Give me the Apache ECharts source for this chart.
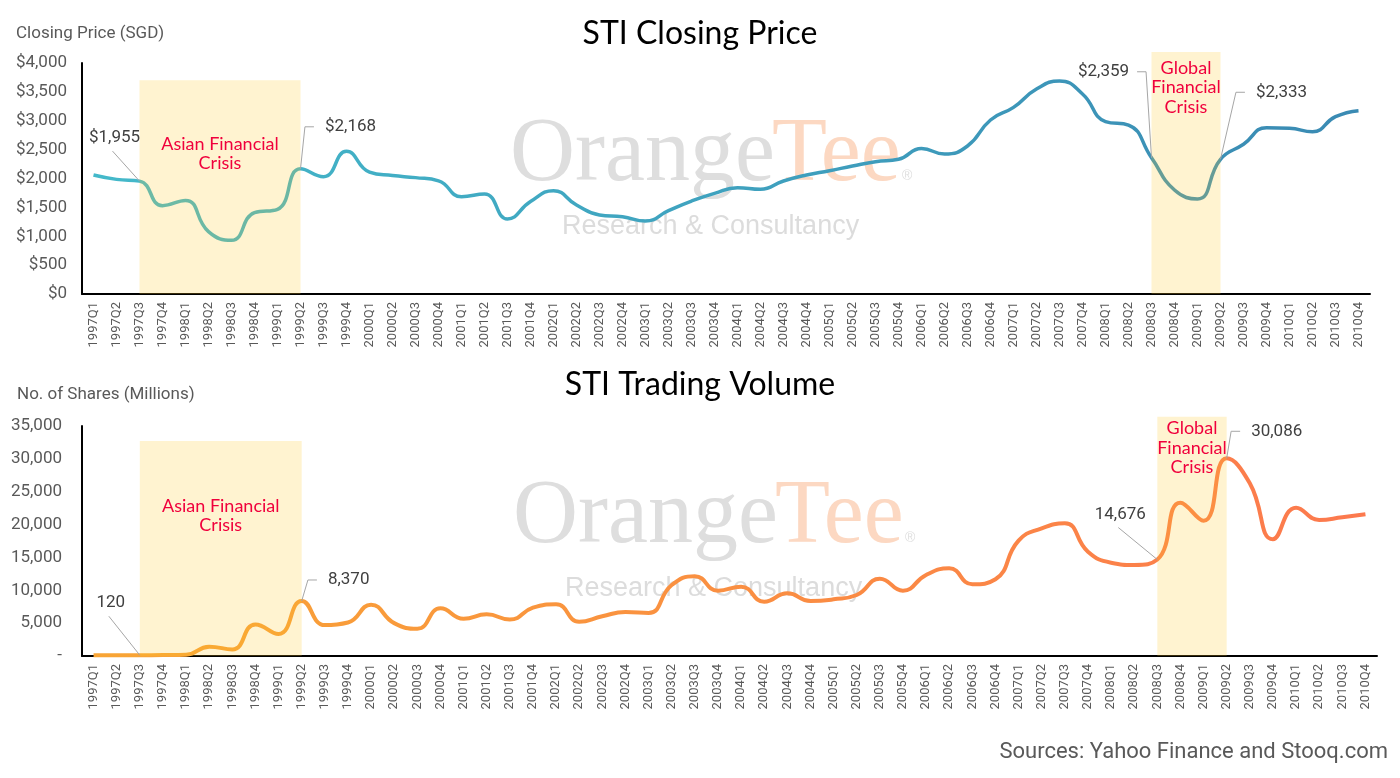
<!DOCTYPE html>
<html><head><meta charset="utf-8">
<script src="https://cdn.jsdelivr.net/npm/echarts@6/dist/echarts.min.js"></script>
<style>html,body{margin:0;padding:0;background:#fff}#c{width:1400px;height:778px}</style>
</head><body><div id="c"></div>
<script>
const quarters = ['1997Q1','1997Q2','1997Q3','1997Q4','1998Q1','1998Q2','1998Q3','1998Q4',
  '1999Q1','1999Q2','1999Q3','1999Q4','2000Q1','2000Q2','2000Q3','2000Q4',
  '2001Q1','2001Q2','2001Q3','2001Q4','2002Q1','2002Q2','2002Q3','2002Q4',
  '2003Q1','2003Q2','2003Q3','2003Q4','2004Q1','2004Q2','2004Q3','2004Q4',
  '2005Q1','2005Q2','2005Q3','2005Q4','2006Q1','2006Q2','2006Q3','2006Q4',
  '2007Q1','2007Q2','2007Q3','2007Q4','2008Q1','2008Q2','2008Q3','2008Q4',
  '2009Q1','2009Q2','2009Q3','2009Q4','2010Q1','2010Q2','2010Q3','2010Q4'];

const closingPrice = [2060,1985,1955,1530,1620,1080,930,1410,1466,2168,
  2032,2470,2110,2050,2015,1960,1685,1731,1299,1600,
  1789,1541,1368,1339,1264,1443,1610,1743,1841,1812,
  1957,2060,2135,2216,2291,2332,2520,2424,2563,3013,
  3232,3550,3688,3463,2984,2926,2359,1800,1645,2333,
  2592,2880,2870,2811,3071,3175];

const tradingVolume = [100,110,120,150,200,1420,1000,4800,3350,8370,
  4700,5100,7800,5000,4150,7250,5650,6340,5550,7350,
  7880,5220,6050,6700,6550,10800,12150,9940,10550,8270,
  9540,8370,8620,9280,11770,9940,12330,13340,10910,11670,
  17550,19430,20190,15870,14200,13850,14676,23330,20590,30086,
  26280,17760,22570,20700,21100,21560];

const priceTickValues = [0,500,1000,1500,2000,2500,3000,3500,4000];
const priceTickLabels = ['$0','$500','$1,000','$1,500','$2,000','$2,500','$3,000','$3,500','$4,000'];
const volumeTickValues = [0,5000,10000,15000,20000,25000,30000,35000];
const volumeTickLabels = ['-','5,000','10,000','15,000','20,000','25,000','30,000','35,000'];

const annotatedQuarters = ['1997Q3','1999Q2','2008Q3','2009Q2'];
const crisisNames = ['Asian Financial\nCrisis','Global\nFinancial\nCrisis'];
const crisisStart = ['1997Q3','2008Q3'];
const crisisEnd = ['1999Q2','2009Q2'];
const priceBoxTop = [3700, 4190];
const volumeBoxTop = [32700, 36400];

// ---- styling / layout (pixel offsets of labels relative to their points) ----
const priceLabelOffsets = [[-25,-43],[50,-42],[-48,-86],[61,-67]];
const priceLeaderSide = ['bottom','left','right','left'];
const volumeLabelOffsets = [[-29,-52],[47,-21],[-37,-45],[50,-27]];
const volumeLeaderSide = ['bottom','left','bottom','left'];
const priceCrisisTextOffset = [54, 6];
const volumeCrisisTextOffset = [55, 2];

const axisTextColor = '#595959';
const annFont = '17px Roboto';
const crisisFont = '18px Lato';

function fmtNum(v){ return String(v).replace(/\B(?=(\d{3})+(?!\d))/g, ','); }
const measureCtx = document.createElement('canvas').getContext('2d');
function textWidth(t, font){ measureCtx.font = font; return measureCtx.measureText(t).width; }
function tickFmt(values, labels){
  return v => { const k = values.indexOf(v); return k < 0 ? '' : labels[k]; };
}

function crisisData(tops){
  return crisisNames.map((n,k)=>[quarters.indexOf(crisisStart[k]), quarters.indexOf(crisisEnd[k]), tops[k]]);
}
function crisisSeries(xi, tops, textOffsets){
  return {
    type: 'custom', xAxisIndex: xi, yAxisIndex: xi, z: 3, clip: false, silent: true,
    encode: {x: [0,1], y: 2},
    data: crisisData(tops),
    renderItem: function(params, api){
      const p0 = api.coord([api.value(0), 0]);
      const p1 = api.coord([api.value(1), api.value(2)]);
      const k = params.dataIndex;
      return {type: 'group', children: [
        {type: 'rect', shape: {x: p0[0], y: p1[1], width: p1[0]-p0[0], height: p0[1]-p1[1]},
         style: {fill: 'rgba(255,200,40,0.22)'}},
        {type: 'text', x: (p0[0]+p1[0])/2, y: p1[1] + textOffsets[k],
         style: {text: crisisNames[k], fill: '#f0003c', font: crisisFont, align: 'center', verticalAlign: 'top', lineHeight: 19.5}}
      ]};
    }
  };
}
function annotationSeries(xi, vals, prefix, offsets, sides){
  const data = annotatedQuarters.map(q => { const i = quarters.indexOf(q); return [i, vals[i]]; });
  return {
    type: 'custom', xAxisIndex: xi, yAxisIndex: xi, z: 4, clip: false, silent: true,
    encode: {x: 0, y: 1},
    data: data,
    renderItem: function(params, api){
      const k = params.dataIndex;
      const pt = api.coord([api.value(0), api.value(1)]);
      const txt = prefix + fmtNum(api.value(1));
      const cx = pt[0] + offsets[k][0], cy = pt[1] + offsets[k][1];
      const hw = textWidth(txt, annFont) / 2;
      let pts;
      if (sides[k] === 'bottom') {
        pts = [[cx - 2, cy + 13], pt];
      } else if (sides[k] === 'left') {
        const e = cx - hw - 11;
        pts = [[e, cy], [e - 9, cy], pt];
      } else {
        const e = cx + hw + 8;
        pts = [[e, cy], [e + 9, cy], pt];
      }
      return {type: 'group', children: [
        {type: 'polyline', shape: {points: pts}, style: {stroke: '#a6a6a6', lineWidth: 1, fill: null}},
        {type: 'text', x: cx, y: cy, style: {text: txt, fill: '#404040', font: annFont, align: 'center', verticalAlign: 'middle'}}
      ]};
    }
  };
}

const xAxisCommon = {
  type: 'category', data: quarters, boundaryGap: true,
  axisLine: {show: true, lineStyle: {color: '#000', width: 2}},
  axisTick: {show: false}, splitLine: {show: false},
  axisLabel: {rotate: 90, interval: 0, fontFamily: 'Roboto', fontSize: 13, color: axisTextColor, margin: 8}
};
const yAxisCommon = {
  type: 'value', min: 0,
  axisLine: {show: true, lineStyle: {color: '#000', width: 2}},
  axisTick: {show: false}, splitLine: {show: false}
};
const lineCommon = {
  type: 'line', smooth: true, showSymbol: false, silent: true, animation: false, z: 2,
  emphasis: {disabled: true}
};

const wmGray = '#dedede', wmPeach = '#fcd8c2';
function watermark(xo, baseY, resY){
  return [
    {type:'text', z:0, left: xo, top: baseY - 72, style:{text:'Orange', font:'90px "Liberation Serif"', fill: wmGray}},
    {type:'text', z:0, left: xo + 262, top: baseY - 72, style:{text:'Tee', font:'90px "Liberation Serif"', fill: wmPeach}},
    {type:'text', z:0, left: xo + 392, top: baseY - 14, style:{text:'®', font:'14px "Liberation Sans"', fill: wmGray}},
    {type:'text', z:0, left: xo + 52, top: resY - 15, style:{text:'Research & Consultancy', font:'27px "Liberation Sans"', fill: '#dcdcdc'}}
  ];
}

const chart = echarts.init(document.getElementById('c'));
chart.setOption({
  backgroundColor: '#fff',
  animation: false,
  title: [
    {text: 'STI Closing Price', left: 'center', top: 18, padding: 0, textStyle: {fontFamily: 'Lato', fontSize: 32, fontWeight: 'normal', color: '#000'}},
    {text: 'STI Trading Volume', left: 'center', top: 369, padding: 0, textStyle: {fontFamily: 'Lato', fontSize: 32, fontWeight: 'normal', color: '#000'}},
    {text: 'Closing Price (SGD)', left: 16, top: 25, padding: 0, textStyle: {fontFamily: 'Roboto', fontSize: 17, fontWeight: 'normal', color: axisTextColor}},
    {text: 'No. of Shares (Millions)', left: 17, top: 386, padding: 0, textStyle: {fontFamily: 'Roboto', fontSize: 17, fontWeight: 'normal', color: axisTextColor}},
    {text: 'Sources: Yahoo Finance and Stooq.com', right: 12, top: 741, padding: 0, textStyle: {fontFamily: 'Roboto', fontSize: 22, fontWeight: 'normal', color: axisTextColor}}
  ],
  graphic: [].concat(watermark(510, 183, 228), watermark(513, 545, 590)),
  grid: [
    {left: 82, right: 30, top: 63, height: 231},
    {left: 82, right: 23, top: 426, height: 230}
  ],
  xAxis: [
    Object.assign({gridIndex: 0}, xAxisCommon),
    Object.assign({gridIndex: 1}, xAxisCommon)
  ],
  yAxis: [
    Object.assign({gridIndex: 0, max: 4000, interval: 500,
      axisLabel: {formatter: tickFmt(priceTickValues, priceTickLabels), fontFamily: 'Roboto', fontSize: 17, color: axisTextColor, margin: 15}}, yAxisCommon),
    Object.assign({gridIndex: 1, max: 35000, interval: 5000,
      axisLabel: {formatter: tickFmt(volumeTickValues, volumeTickLabels), fontFamily: 'Roboto', fontSize: 17, color: axisTextColor, margin: 20}}, yAxisCommon)
  ],
  series: [
    Object.assign({}, lineCommon, {
      name: 'STI Closing Price', xAxisIndex: 0, yAxisIndex: 0,
      data: closingPrice,
      lineStyle: {width: 3.5, color: {type:'linear', x:0, y:0, x2:1, y2:0,
        colorStops:[{offset:0, color:'#44b9ca'},{offset:1, color:'#3a8ab3'}]}}
    }),
    Object.assign({}, lineCommon, {
      name: 'STI Trading Volume', xAxisIndex: 1, yAxisIndex: 1,
      data: tradingVolume,
      lineStyle: {width: 4, color: {type:'linear', x:0, y:0, x2:1, y2:0,
        colorStops:[{offset:0, color:'#f8a535'},{offset:1, color:'#fc794e'}]}}
    }),
    crisisSeries(0, priceBoxTop, priceCrisisTextOffset),
    crisisSeries(1, volumeBoxTop, volumeCrisisTextOffset),
    annotationSeries(0, closingPrice, '$', priceLabelOffsets, priceLeaderSide),
    annotationSeries(1, tradingVolume, '', volumeLabelOffsets, volumeLeaderSide)
  ]
});
</script>
</body></html>
